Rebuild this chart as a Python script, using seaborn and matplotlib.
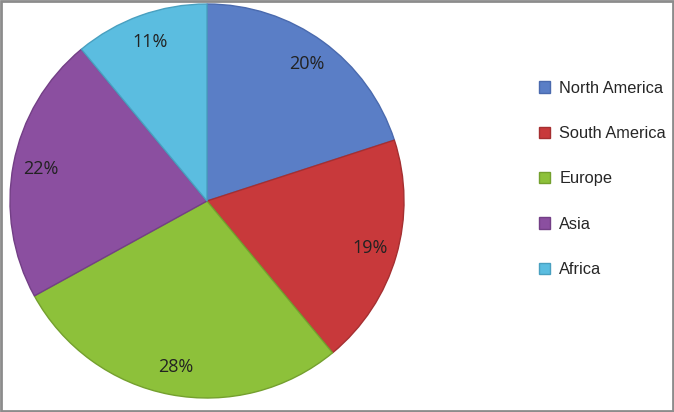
import matplotlib
matplotlib.use("Agg")
import matplotlib.pyplot as plt
import seaborn as sns
from matplotlib.patches import Rectangle

regions = ["North America", "South America", "Europe", "Asia", "Africa"]
shares = [20, 19, 28, 22, 11]
colors = ["#5A7EC6", "#C8393B", "#8DC13A", "#8B4FA0", "#5BBDE0"]
edges = ["#4A6AAE", "#A52F31", "#74A02E", "#733F86", "#49A0C0"]

sns.set_theme(style="white")
plt.rcParams["font.family"] = ["Open Sans", "DejaVu Sans"]

W, H = 674, 412
fig = plt.figure(figsize=(W / 100, H / 100), dpi=100)

# pie box in pixels: centre (207, 201), radius 197
cx, cy, r = 207, 201, 197
ax = fig.add_axes([(cx - r) / W, (H - cy - r) / H, 2 * r / W, 2 * r / H])
wedges, texts, autotexts = ax.pie(
    shares, colors=colors, startangle=90, counterclock=False,
    autopct="%d%%", pctdistance=0.86,
    wedgeprops=dict(linewidth=1.0),
    textprops=dict(fontsize=13, color="#222222"),
)
for w, e in zip(wedges, edges):
    w.set_edgecolor(e)
ax.set_xlim(-1.0, 1.0)
ax.set_ylim(-1.0, 1.0)
ax.set_aspect("equal")
ax.axis("off")

leg = fig.legend(
    wedges, regions, loc="upper left", bbox_to_anchor=(524 / W, 1 - 66 / H),
    frameon=False, handlelength=0.7, handleheight=0.7, handletextpad=0.55,
    labelspacing=1.85, prop=dict(family="Liberation Sans", size=11.8),
)

fig.patches.append(Rectangle((0.0015, 0.0025), 0.997, 0.995, transform=fig.transFigure,
                             fill=False, edgecolor="#8c8c8c", linewidth=2))

fig.savefig("out.png", dpi=100)
